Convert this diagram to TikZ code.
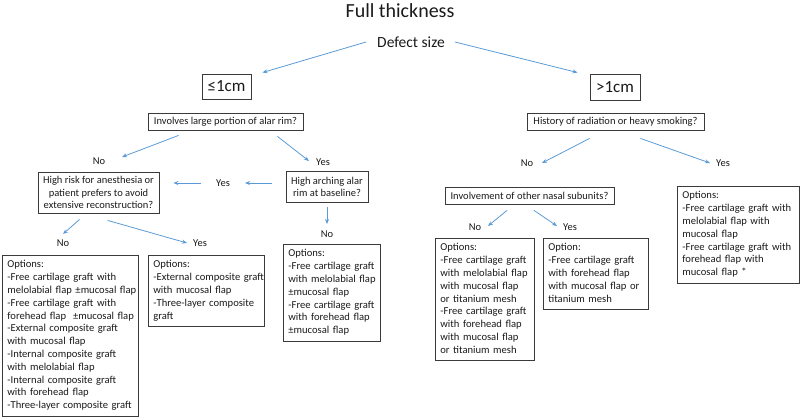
\documentclass[tikz,border=0pt]{standalone}
\usepackage{fontspec}
\setmainfont{Carlito}
\usetikzlibrary{arrows.meta,calc}
\definecolor{arrblue}{HTML}{5B9BD5}
\definecolor{boxgray}{HTML}{3A3A3A}
\definecolor{txt}{HTML}{1A1A1A}
\newcommand{\optlines}[1]{\begin{tabular}{@{}l@{}}#1\end{tabular}}
\begin{document}
\begin{tikzpicture}[x=1pt,y=-1pt,text=txt,
 arr/.style={draw=arrblue,line width=0.8pt,-{Stealth[length=5pt,width=4pt]}},
 qbox/.style={draw=boxgray,line width=0.8pt,inner sep=0pt,align=center,font=\fontsize{10.5}{12.2}\selectfont},
 optbox/.style={draw=boxgray,line width=0.8pt,anchor=north west,align=left,inner xsep=5pt,inner ysep=3.5pt,font=\fontsize{10.6}{12.8}\selectfont},
 lbl/.style={inner sep=0pt,font=\fontsize{10.5}{12}\selectfont},
 sizebox/.style={draw=boxgray,line width=0.9pt,inner sep=0pt,font=\fontsize{17}{20}\selectfont}]
\useasboundingbox (0,0) rectangle (800,418);

% title and root
\node[inner sep=0pt,font=\fontsize{20}{24}\selectfont] (title) at (400,11) {Full thickness};
\node[inner sep=0pt,font=\fontsize{15.5}{18}\selectfont] (defect) at (411,42) {Defect size};

% size boxes
\node[sizebox,minimum width=49pt,minimum height=25pt] (le) at (226.5,86.5) {≤1cm};
\node[sizebox,minimum width=50pt,minimum height=26pt] (gt) at (615,87) {>1cm};

% question boxes
\node[qbox,minimum width=155pt,minimum height=17pt] (inv) at (225.5,121.5) {Involves large portion of alar rim?};
\node[qbox,minimum width=177pt,minimum height=17pt] (hist) at (615.5,121.5) {History of radiation or heavy smoking?};
\node[qbox,minimum width=121pt,minimum height=41pt] (risk) at (98.5,192.5) {High risk for anesthesia or\\patient prefers to avoid\\extensive reconstruction?};
\node[qbox,minimum width=82pt,minimum height=31pt] (arch) at (327,186.5) {High arching alar\\rim at baseline?};
\node[qbox,minimum width=169pt,minimum height=17pt] (sub) at (529.5,195.5) {Involvement of other nasal subunits?};

% labels
\node[lbl] (no1) at (99,161) {No};
\node[lbl] (yes1) at (323,162) {Yes};
\node[lbl] (yes2) at (223,183) {Yes};
\node[lbl] (no2) at (327,234) {No};
\node[lbl] (no3) at (63,243) {No};
\node[lbl] (yes3) at (200,243) {Yes};
\node[lbl] (noR) at (527,163) {No};
\node[lbl] (yesR) at (723,163) {Yes};
\node[lbl] (noR2) at (475,227) {No};
\node[lbl] (yesR2) at (570,227) {Yes};

% option boxes
\node[optbox,text width=126pt] (optA) at (2,255) {\optlines{Options:\\-Free cartilage graft with\\melolabial flap ±mucosal flap\\-Free cartilage graft with\\forehead flap ~±mucosal flap\\-External composite graft\\with mucosal flap\\-Internal composite graft\\with melolabial flap\\-Internal composite graft\\with forehead flap\\-Three-layer composite graft}};
\node[optbox,text width=106pt] (optB) at (148,255) {\optlines{Options:\\-External composite graft\\with mucosal flap\\-Three-layer composite\\graft}};
\node[optbox,text width=87pt] (optC) at (283,244) {\optlines{Options:\\-Free cartilage graft\\with melolabial flap\\±mucosal flap\\-Free cartilage graft\\with forehead flap\\±mucosal flap}};
\node[optbox,text width=89pt] (optD) at (435,238) {\optlines{Options:\\-Free cartilage graft\\with melolabial flap\\with mucosal flap\\or titanium mesh\\-Free cartilage graft\\with forehead flap\\with mucosal flap\\or titanium mesh}};
\node[optbox,text width=95pt] (optE) at (543,238) {\optlines{Option:\\-Free cartilage graft\\with forehead flap\\with mucosal flap or\\titanium mesh}};
\node[optbox,text width=112pt] (optF) at (677,186) {\optlines{Options:\\-Free cartilage graft with\\melolabial flap with\\mucosal flap\\-Free cartilage graft with\\forehead flap with\\mucosal flap *}};

% arrows
\draw[arr] ($(defect.west)+(-11,0)$) -- ($(le.north east)+(11,-1)$);
\draw[arr] ($(defect.east)+(10,0)$) -- ($(gt.north west)+(-12,-1)$);
\draw[arr] ($(inv.south west)+(31,5)$) -- ($(no1)+(23,-4)$);
\draw[arr] ($(inv.south east)+(-26,6)$) -- ($(yes1)+(-14,-1)$);
\draw[arr] ($(arch.west)+(-14,-3.5)$) -- ($(yes2)+(22,0)$);
\draw[arr] ($(yes2)+(-22,0)$) -- ($(risk.east)+(14,-9.5)$);
\draw[arr] ($(arch.south)+(0,5)$) -- ($(no2)+(0,-10)$);
\draw[arr] ($(risk.south west)+(42,6)$) -- ($(no3)+(0,-9)$);
\draw[arr] ($(risk.south west)+(70,7)$) -- ($(yes3)+(-13,0)$);
\draw[arr] ($(hist.south west)+(63,8)$) -- ($(noR)+(15,0)$);
\draw[arr] ($(hist.south east)+(-64,8)$) -- ($(yesR)+(-13,0)$);
\draw[arr] ($(sub.south)+(-22.5,6)$) -- ($(noR2)+(13,-1)$);
\draw[arr] ($(sub.south)+(4.5,6)$) -- ($(yesR2)+(-13,-1)$);
\end{tikzpicture}
\end{document}
